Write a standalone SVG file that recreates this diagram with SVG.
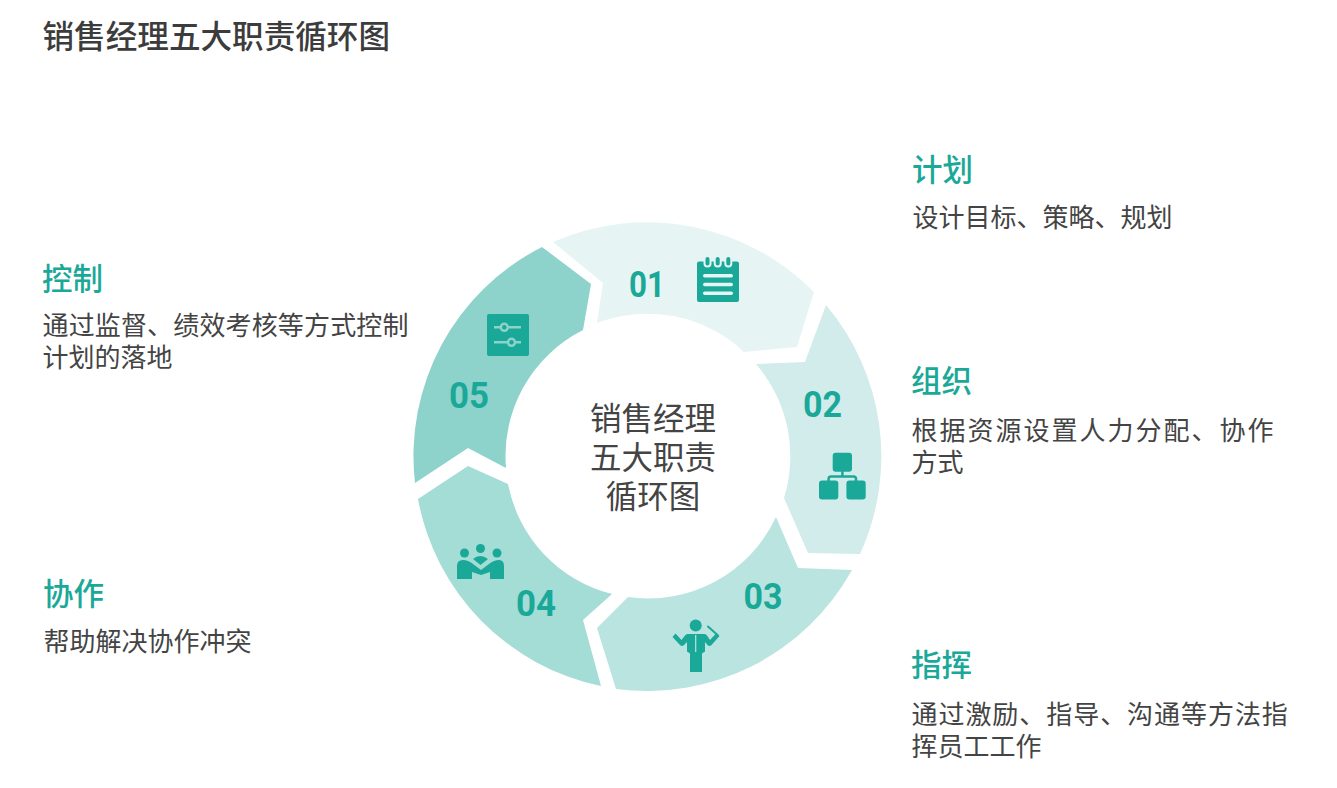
<svg xmlns="http://www.w3.org/2000/svg" width="1337" height="788" viewBox="0 0 1337 788">
<style>
text{font-family:"Noto Sans CJK SC","Noto Sans",sans-serif;fill:#444}
.t{font-size:31.6px;font-weight:500;fill:#3c3c3c}
.h{font-size:30.5px;font-weight:500;fill:#1aa899}
.d{font-size:26px}
.c{font-size:31.500px;text-anchor:middle}
.n{font-family:"Roboto",sans-serif;font-size:36px;font-weight:700;fill:#1aa899;text-anchor:middle}
.i{fill:#1aa899}
</style>
<rect width="1337" height="788" fill="#fff"/>
<text class="t" x="42.500" y="48">销售经理五大职责循环图</text>
<g id="connectors"/>
<g id="node-01">
<path fill="#e6f5f3" d="M553 242A234.500 234.500 0 0 1 814 292L797 347L744 352A141 141 0 0 0 597 323L603 283Z"/>
<text class="n" x="647" y="297" textLength="36" lengthAdjust="spacingAndGlyphs">01</text>
<g id="icon-01"><rect class="i" x="697" y="261.500" width="42" height="40.500" rx="2"/>
<g fill="#e6f5f3"><rect x="703" y="274" width="30" height="3.500" rx="1.700"/><rect x="703" y="282.700" width="30" height="3.500" rx="1.700"/><rect x="703" y="291.500" width="30" height="3.500" rx="1.700"/>
<rect x="703.500" y="255" width="8" height="12.500" rx="4"/><rect x="713.700" y="255" width="8" height="12.500" rx="4"/><rect x="724.300" y="255" width="8" height="12.500" rx="4"/></g>
<g class="i"><rect x="705.500" y="257" width="4" height="8.500" rx="2"/><rect x="715.700" y="257" width="4" height="8.500" rx="2"/><rect x="726.300" y="257" width="4" height="8.500" rx="2"/></g></g>
<text class="h" x="912" y="181">计划</text>
<text class="d" x="912.500" y="227">设计目标、策略、规划</text>
</g>
<g id="node-02">
<path fill="#d1ecea" d="M826 305A234.500 234.500 0 0 1 860 554L808 553L784 498A141 141 0 0 0 756 364L805 362Z"/>
<text class="n" x="822.500" y="417" textLength="39" lengthAdjust="spacingAndGlyphs">02</text>
<g id="icon-02"><rect class="i" x="832.700" y="452.700" width="19.300" height="19" rx="3"/><rect class="i" x="819" y="480.500" width="19.300" height="19" rx="3"/><rect class="i" x="846.400" y="480.500" width="19.300" height="19" rx="3"/>
<path d="M842.400 471V476.500M828.600 481V479Q828.600 476.500 831 476.500H853.500Q856 476.500 856 479V481" fill="none" stroke="#1aa899" stroke-width="2.500"/></g>
<text class="h" x="911" y="392">组织</text>
<text class="d" x="911.500" y="440" letter-spacing="2">根据资源设置人力分配、协作</text>
<text class="d" x="911.500" y="472">方式</text>
</g>
<g id="node-03">
<path fill="#bae4e0" d="M852 570A234.500 234.500 0 0 1 616 689L597 628L628 597A141 141 0 0 0 776 517L798 568Z"/>
<text class="n" x="763" y="608.500" textLength="39" lengthAdjust="spacingAndGlyphs">03</text>
<g id="icon-03"><circle class="i" cx="695.700" cy="625.500" r="6"/>
<path class="i" d="M687.500 634H704.500Q706 634 707 635.500L710 640L716.500 633L719.500 636L711.500 645Q709.500 647 707.500 645L705 642V651.500L702 653.500V672H690V653.500L687 651.500V642L684 645Q682 647 680 645L672.500 637L675.500 633.500L681.500 640L685 635.500Q686 634 687.500 634Z"/>
<path d="M708 626.500L717.500 635" stroke="#1aa899" stroke-width="2" fill="none" stroke-linecap="round"/>
<path d="M695.700 635V652" stroke="#bae4e0" stroke-width="1.200"/></g>
<text class="h" x="911" y="676">指挥</text>
<text class="d" x="911.500" y="724" letter-spacing="0.950">通过激励、指导、沟通等方法指</text>
<text class="d" x="911.500" y="756">挥员工工作</text>
</g>
<g id="node-04">
<path fill="#a4dcd6" d="M601 686A234.500 234.500 0 0 1 418 499L468 466L508 484A141 141 0 0 0 612 594L583 620Z"/>
<text class="n" x="536" y="616" textLength="40" lengthAdjust="spacingAndGlyphs">04</text>
<g id="icon-04"><circle class="i" cx="464.500" cy="553" r="4.500"/><circle class="i" cx="480.500" cy="548.500" r="4.500"/><circle class="i" cx="497" cy="553" r="4.500"/>
<path class="i" d="M457 579V566Q457 560 463 560Q468 560 473 564L481 570L489 564Q494 560 499 560Q504 560 504 566V579H490V572L481 575L472 572V579Z"/>
<path class="i" d="M473 559Q480 553 488 559L480.500 565Z"/></g>
<text class="h" x="43" y="605">协作</text>
<text class="d" x="43.500" y="651">帮助解决协作冲突</text>
</g>
<g id="node-05">
<path fill="#8dd2cb" d="M415 483A234.500 234.500 0 0 1 542 247L591 284L583 330A141 141 0 0 0 506 468L468 448Z"/>
<text class="n" x="469" y="408" textLength="40" lengthAdjust="spacingAndGlyphs">05</text>
<g id="icon-05"><rect class="i" x="487" y="314" width="42" height="42" rx="2"/>
<path d="M494 327.300H521M494 342.300H521" stroke="#8dd2cb" stroke-width="2.500" fill="none"/>
<circle cx="504.300" cy="327.300" r="3.500" fill="#1aa899" stroke="#8dd2cb" stroke-width="2.500"/><circle cx="511.500" cy="342.300" r="3.500" fill="#1aa899" stroke="#8dd2cb" stroke-width="2.500"/></g>
<text class="h" x="42" y="290">控制</text>
<text class="d" x="42.500" y="335" letter-spacing="0.150">通过监督、绩效考核等方式控制</text>
<text class="d" x="42.500" y="367">计划的落地</text>
</g>
<g id="center">
<text class="c" x="653" y="429.500">销售经理</text>
<text class="c" x="653" y="468.500">五大职责</text>
<text class="c" x="653" y="507.500">循环图</text>
</g>
</svg>
